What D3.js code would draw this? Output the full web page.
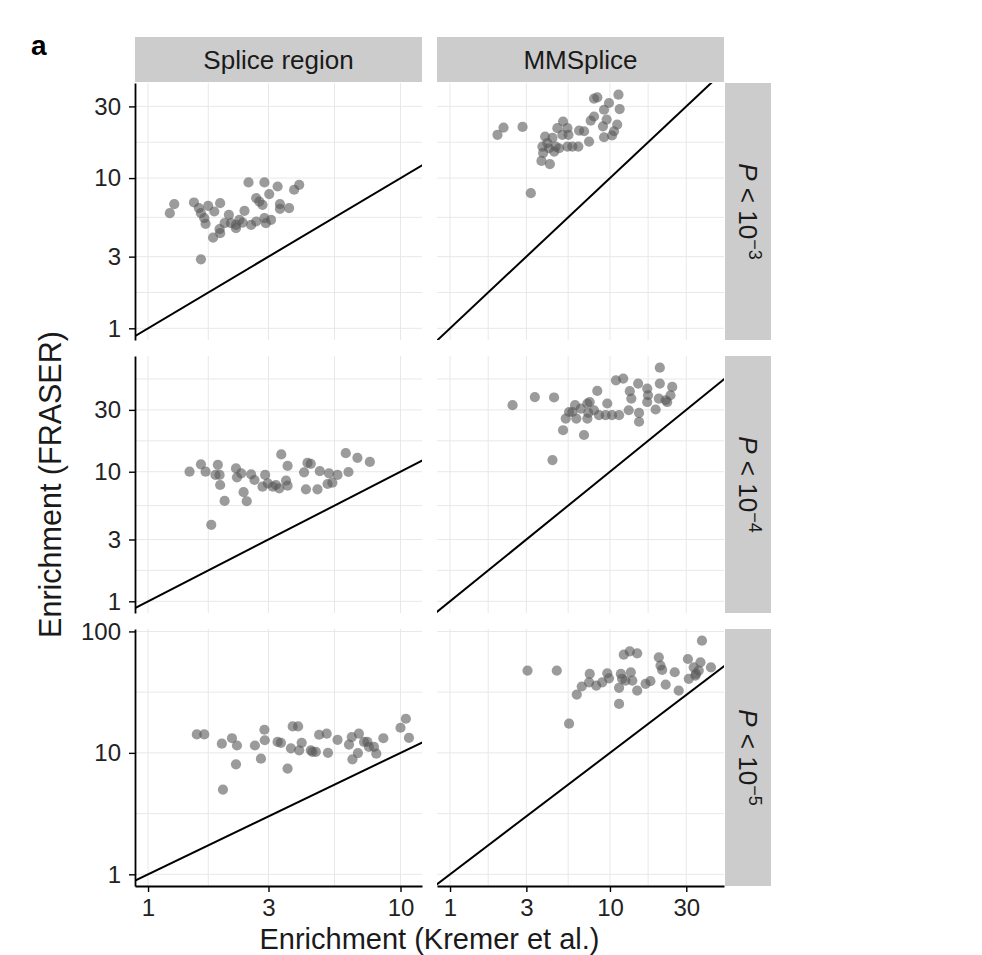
<!DOCTYPE html>
<html>
<head>
<meta charset="utf-8">
<script src="https://cdn.jsdelivr.net/npm/d3@7"></script>
<style>
  body { margin: 0; background: #fff; }
  svg { display: block; font-family: "Liberation Sans", Arial, sans-serif; }
</style>
</head>
<body>
<svg id="chart" width="982" height="955"></svg>
<script>
const columns = ["Splice region", "MMSplice"]
const pExponents = [3, 4, 5]
const xTicks = [[1, 3, 10], [1, 3, 10, 30]]
const yTicks = [[1, 3, 10, 30], [1, 3, 10, 30], [1, 10, 100]]

// [Kremer et al., FRASER] enrichment, one array per facet
const spliceP3 = [[1.22,5.84],[1.27,6.71],[1.52,6.88],[1.59,6.31],[1.62,5.84],[1.67,5.41],[1.69,4.96],[1.73,6.53],[1.83,5.99],[1.93,6.81],[1.81,4.02],[1.92,4.57],[1.93,4.30],[2.09,5.69],[2.13,5.01],[2.23,4.88],[2.30,5.27],[2.41,6.05],[2.23,4.64],[2.56,4.88],[2.50,9.35],[2.89,9.35],[3.26,8.79],[3.02,7.82],[2.68,7.36],[2.76,6.98],[2.84,6.64],[2.68,5.14],[2.89,5.41],[3.07,5.27],[2.93,5.01],[3.33,6.71],[3.33,6.24],[3.62,6.31],[3.79,8.36],[3.97,9.02],[1.62,2.88],[2.37,5.06],[2.01,5.01]]
const mmspliceP3 = [[1.98,19.4],[2.16,21.7],[2.84,21.9],[3.20,7.94],[3.73,13.0],[3.82,14.7],[3.93,18.9],[4.21,12.4],[4.06,17.1],[4.37,18.5],[4.58,16.2],[4.69,21.5],[5.09,23.8],[5.42,21.5],[5.50,19.4],[5.42,16.2],[6.41,20.7],[6.34,16.2],[6.89,20.5],[7.40,17.5],[7.58,24.1],[7.95,25.7],[7.95,33.8],[8.34,34.5],[9.18,28.5],[9.86,31.6],[9.53,24.5],[9.04,22.1],[9.18,18.7],[10.6,20.5],[11.1,22.7],[11.5,28.8],[11.3,35.9],[10.3,19.2],[4.48,15.0],[4.81,15.8],[4.16,15.8],[5.82,16.2],[5.04,19.4],[3.78,16.2]]
const spliceP4 = [[1.46,10.0],[1.62,11.4],[1.69,10.0],[1.89,11.3],[1.85,9.44],[1.92,9.44],[1.93,7.90],[2.01,5.95],[1.78,3.89],[2.23,10.6],[2.25,9.06],[2.34,9.72],[2.39,6.95],[2.46,5.92],[2.56,9.55],[2.64,8.63],[2.91,9.44],[2.84,7.67],[2.98,8.14],[3.12,7.67],[3.31,7.45],[3.37,13.6],[3.57,11.1],[3.52,8.53],[3.57,7.80],[4.15,9.89],[4.28,11.7],[4.41,11.5],[4.22,7.32],[4.69,7.32],[4.79,10.1],[5.21,9.72],[5.14,8.04],[5.37,8.23],[5.63,9.44],[6.22,9.95],[6.07,13.9],[6.75,12.8],[7.56,11.9],[3.21,7.90]]
const mmspliceP4 = [[2.46,32.6],[3.39,37.7],[4.47,37.4],[4.37,12.3],[5.09,20.9],[6.88,19.2],[5.29,25.7],[5.55,28.9],[6.05,32.6],[6.16,25.7],[6.57,30.7],[7.22,33.6],[7.47,34.5],[7.32,28.4],[7.22,25.7],[7.95,29.8],[8.33,42.0],[8.54,27.3],[9.62,33.6],[9.40,27.3],[10.3,27.3],[11.4,27.3],[10.9,50.7],[12.1,52.3],[13.3,41.8],[13.6,36.7],[13.1,29.8],[15.2,28.4],[15.2,24.3],[15.0,47.9],[17.1,43.8],[17.3,38.9],[17.1,34.5],[19.3,30.2],[20.5,63.5],[20.5,47.9],[20.2,36.7],[22.3,35.6],[5.82,28.9],[24.5,45.1],[23.9,38.9],[22.8,34.5]]
const spliceP5 = [[1.56,14.2],[1.67,14.2],[1.96,11.9],[2.15,13.2],[2.25,11.5],[2.23,8.05],[1.98,4.99],[2.65,11.5],[2.80,8.96],[2.89,15.5],[2.90,12.7],[3.26,12.3],[3.36,12.1],[3.57,7.42],[3.68,10.9],[3.74,16.5],[3.93,16.5],[3.97,10.5],[4.06,12.1],[4.41,10.5],[4.62,10.2],[4.76,14.1],[5.10,14.4],[5.16,10.0],[5.63,12.8],[6.25,11.7],[6.45,8.85],[6.41,13.5],[6.78,9.96],[6.84,14.4],[7.17,12.3],[7.50,11.2],[7.85,11.2],[8.02,9.85],[8.55,13.2],[10.0,16.1],[10.5,19.1],[10.8,13.3],[4.48,10.2],[7.39,12.3]]
const mmspliceP5 = [[3.05,47.6],[4.65,47.6],[5.55,17.4],[6.20,30.2],[6.66,35.2],[7.47,44.7],[7.40,38.1],[8.21,35.8],[8.95,38.1],[9.62,45.2],[9.86,41.1],[11.4,34.3],[11.4,25.3],[11.7,44.7],[11.9,40.7],[12.2,64.4],[13.3,68.5],[14.8,66.0],[13.5,46.1],[13.8,39.4],[14.8,32.6],[16.7,37.0],[17.9,38.9],[20.2,61.2],[20.7,52.3],[21.2,48.2],[22.3,36.5],[25.4,46.1],[26.9,32.6],[30.7,59.3],[31.1,40.7],[33.4,50.6],[34.5,44.7],[36.8,55.7],[37.6,83.9],[42.8,50.6],[12.5,39.4],[34.2,43.3],[35.9,47.6]]

const panels = [[spliceP3, mmspliceP3], [spliceP4, mmspliceP4], [spliceP5, mmspliceP5]]

const marginLeft = 135
const marginTop = 83
const panelW = 287
const panelH = 257
const gapX = 15
const gapY = 16
const stripH = 45
const stripW = 46

const svg = d3.select("#chart")

// log domain like ggplot: include 1, then 5% padding on the log range
function logDomain(values) {
  const a = Math.log10(Math.min(1, d3.min(values)))
  const b = Math.log10(d3.max(values))
  const pad = (b - a) * 0.05
  return [10 ** (a - pad), 10 ** (b + pad)]
}

// midpoints between major breaks, extended one step beyond each end
function minorBreaks(ticks, domain) {
  let b = ticks.map(Math.log10)
  const step = b[1] - b[0]
  const lo = Math.log10(domain[0]), hi = Math.log10(domain[1])
  if (lo < b[0]) b = [b[0] - step, ...b]
  if (hi > b[b.length - 1]) b = [...b, b[b.length - 1] + step]
  return d3.pairs(b).map(([p, q]) => (p + q) / 2)
    .filter(v => v > lo && v < hi)
    .map(v => 10 ** v)
}

const xScales = columns.map((c, j) => {
  const xs = panels.flatMap(row => row[j].map(d => d[0]))
  const x0 = marginLeft + j * (panelW + gapX)
  return d3.scaleLog().domain(logDomain(xs)).range([x0, x0 + panelW])
})
const yScales = pExponents.map((p, i) => {
  const ys = panels[i].flatMap(set => set.map(d => d[1]))
  const y0 = marginTop + i * (panelH + gapY)
  return d3.scaleLog().domain(logDomain(ys)).range([y0 + panelH, y0])
})

const defs = svg.append("defs")

function styleAxis(ax) {
  ax.attr("font-family", null).attr("font-size", null)
  ax.select(".domain").attr("stroke", "#000").attr("stroke-width", 1.8)
  ax.selectAll(".tick line").attr("stroke", "#000").attr("stroke-width", 1.4)
  ax.selectAll(".tick text").attr("font-size", 24).attr("fill", "#222")
}

panels.forEach((row, i) => {
  row.forEach((pts, j) => {
    const x = xScales[j]
    const y = yScales[i]
    const [x0, x1] = x.range()
    const [y1, y0] = y.range()
    const g = svg.append("g")

    const clipId = `clip-${i}-${j}`
    defs.append("clipPath").attr("id", clipId)
      .append("rect").attr("x", x0).attr("y", y0).attr("width", x1 - x0).attr("height", y1 - y0)

    const grid = g.append("g").attr("stroke", "#e8e8e8").attr("stroke-width", 1)
    const xGrid = [...xTicks[j], ...minorBreaks(xTicks[j], x.domain())]
    const yGrid = [...yTicks[i], ...minorBreaks(yTicks[i], y.domain())]
    grid.selectAll(".vx").data(xGrid).enter().append("line")
      .attr("x1", d => x(d)).attr("x2", d => x(d)).attr("y1", y0).attr("y2", y1)
    grid.selectAll(".hy").data(yGrid).enter().append("line")
      .attr("x1", x0).attr("x2", x1).attr("y1", d => y(d)).attr("y2", d => y(d))

    g.selectAll("circle")
      .data(pts)
      .enter()
      .append("circle")
      .attr("cx", d => x(d[0]))
      .attr("cy", d => y(d[1]))
      .attr("r", 5.1)
      .attr("fill", "#585858")
      .attr("fill-opacity", 0.6)

    // identity line y = x
    const lo = Math.min(x.domain()[0], y.domain()[0])
    const hi = Math.max(x.domain()[1], y.domain()[1])
    g.append("line")
      .attr("clip-path", `url(#${clipId})`)
      .attr("x1", x(lo)).attr("y1", y(lo))
      .attr("x2", x(hi)).attr("y2", y(hi))
      .attr("stroke", "#000")
      .attr("stroke-width", 2)

    if (j === 0) {
      const ax = svg.append("g")
        .attr("transform", `translate(${x0},0)`)
        .call(d3.axisLeft(y).tickValues(yTicks[i]).tickFormat(d3.format("d"))
          .tickSize(6).tickSizeOuter(0).tickPadding(8))
      styleAxis(ax)
    }
    if (i === panels.length - 1) {
      const ax = svg.append("g")
        .attr("transform", `translate(0,${y1})`)
        .call(d3.axisBottom(x).tickValues(xTicks[j]).tickFormat(d3.format("d"))
          .tickSize(6).tickSizeOuter(0).tickPadding(7))
      styleAxis(ax)
    }
  })
})

// column strips
columns.forEach((name, j) => {
  const [x0, x1] = xScales[j].range()
  svg.append("rect")
    .attr("x", x0).attr("y", marginTop - 1 - stripH)
    .attr("width", x1 - x0).attr("height", stripH)
    .attr("fill", "#cccccc")
  svg.append("text")
    .attr("x", (x0 + x1) / 2).attr("y", marginTop - 1 - stripH / 2)
    .attr("dy", "0.36em")
    .attr("text-anchor", "middle")
    .attr("font-size", 26)
    .attr("fill", "#1a1a1a")
    .text(name)
})

// row strips
const stripX = xScales[1].range()[1] + 1
pExponents.forEach((p, i) => {
  const [y1, y0] = yScales[i].range()
  svg.append("rect")
    .attr("x", stripX).attr("y", y0)
    .attr("width", stripW).attr("height", y1 - y0)
    .attr("fill", "#cccccc")
  const t = svg.append("text")
    .attr("transform", `translate(${stripX + stripW / 2},${(y0 + y1) / 2}) rotate(90)`)
    .attr("text-anchor", "middle")
    .attr("dy", "0.36em")
    .attr("font-size", 26)
    .attr("fill", "#1a1a1a")
  t.append("tspan").attr("font-style", "italic").text("P")
  t.append("tspan").text(" < 10")
  t.append("tspan").attr("font-size", 18).attr("dy", "-0.6em").text("\u2212" + p)
})

// axis titles
svg.append("text")
  .attr("transform", `translate(61,${(marginTop + yScales[2].range()[0]) / 2}) rotate(-90)`)
  .attr("text-anchor", "middle")
  .attr("font-size", 30.5)
  .attr("fill", "#1a1a1a")
  .text("Enrichment (FRASER)")

svg.append("text")
  .attr("x", (marginLeft + xScales[1].range()[1]) / 2)
  .attr("y", 948.5)
  .attr("text-anchor", "middle")
  .attr("font-size", 29)
  .attr("fill", "#1a1a1a")
  .text("Enrichment (Kremer et al.)")

svg.append("text")
  .attr("x", 31).attr("y", 55)
  .attr("font-size", 28)
  .attr("font-weight", "bold")
  .text("a")
</script>
</body>
</html>
